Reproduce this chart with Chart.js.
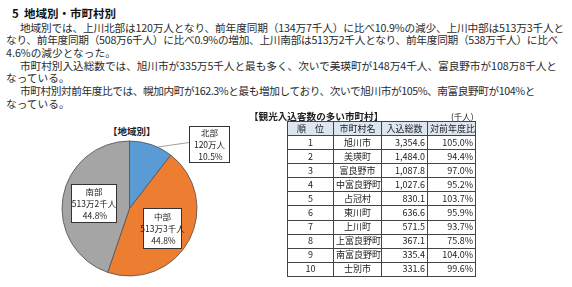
<!DOCTYPE html>
<html><head><meta charset="utf-8">
<script src="https://cdn.jsdelivr.net/npm/chart.js@4"></script>
<style>
html,body{margin:0;padding:0;background:#fff;width:572px;height:287px;overflow:hidden;}
body{position:relative;font-family:"Noto Sans CJK JP","Noto Sans",sans-serif;color:#222;}
.ln{position:absolute;white-space:nowrap;font-size:10.7px;line-height:13px;color:#2a2a2a;}
#ttl{position:absolute;left:12px;top:5px;font-size:11.5px;font-weight:bold;line-height:16px;white-space:nowrap;color:#111;}
#pieTitle{position:absolute;left:108px;top:124px;font-size:9.5px;font-weight:bold;line-height:14px;white-space:nowrap;}
#tblTitle{position:absolute;left:249px;top:109px;font-size:9.6px;font-weight:bold;line-height:14px;white-space:nowrap;}
#unit{position:absolute;left:451px;top:110px;font-size:8.5px;line-height:12px;white-space:nowrap;}
#pie{position:absolute;left:0;top:110px;}
#tbl{position:absolute;left:287px;top:121px;width:188px;border-collapse:collapse;table-layout:fixed;font-size:9px;border:1.5px solid #333;}
#tbl th,#tbl td{border:1px solid #444;padding:0 2px;line-height:12px;white-space:nowrap;overflow:hidden;}
#tbl th{background:#DCE6F1;font-weight:normal;text-align:center;height:13px;}
#tbl td{height:13.1px;}
#tbl td.c{text-align:center;}
#tbl td.r{text-align:right;}
</style></head>
<body>
<div id="ttl">5&nbsp;&nbsp;地域別・市町村別</div>
<div id="body"></div>
<div id="pieTitle">【地域別】</div>
<canvas id="pie" width="250" height="177"></canvas>
<div id="tblTitle">【観光入込客数の多い市町村】</div>
<div id="unit">(千人)</div>
<table id="tbl"><colgroup><col style="width:46px"><col style="width:48px"><col style="width:46px"><col style="width:48px"></colgroup><thead></thead><tbody></tbody></table>
<script>
// ---- data ----
const textLines = [
 "地域別では、上川北部は120万人となり、前年度同期（134万7千人）に比べ10.9%の減少、上川中部は513万3千人と",
 "なり、前年度同期（508万6千人）に比べ0.9%の増加、上川南部は513万2千人となり、前年度同期（538万千人）に比べ",
 "4.6%の減少となった。",
 "市町村別入込総数では、旭川市が335万5千人と最も多く、次いで美瑛町が148万4千人、富良野市が108万8千人と",
 "なっている。",
 "市町村別対前年度比では、幌加内町が162.3%と最も増加しており、次いで旭川市が105%、南富良野町が104%と",
 "なっている。"
];
const regions = ["北部","中部","南部"];
const regionValues = [120.0, 513.3, 513.2];
const regionAmounts = ["120万人","513万3千人","513万2千人"];
const regionShares = ["10.5%","44.8%","44.8%"];
const regionColors = ["#5B9BD5","#ED7D31","#A5A5A5"];
const tableHeader = ["順　位","市町村名","入込総数","対前年度比"];
const ranks = ["1","2","3","4","5","6","7","8","9","10"];
const towns = ["旭川市","美瑛町","富良野市","中富良野町","占冠村","東川町","上川町","上富良野町","南富良野町","士別市"];
const visitors = ["3,354.6","1,484.0","1,087.8","1,027.6","830.1","636.6","571.5","367.1","335.4","331.6"];
const ratios = ["105.0%","94.4%","97.0%","95.2%","103.7%","95.9%","93.7%","75.8%","104.0%","99.6%"];

// ---- body text ----
const lineGeom = [[20,564,27],[6,558,39.7],[6,null,52.4],[20,557,65.1],[6,null,77.8],[20,535,90.5],[6,null,103.2]];
const bodyDiv = document.getElementById('body');
textLines.forEach((t,i)=>{
  const d=document.createElement('div'); d.className='ln'; d.textContent=t;
  const g=lineGeom[i];
  d.style.left=g[0]+'px'; d.style.top=(g[2]-6.5)+'px';
  bodyDiv.appendChild(d);
  if(g[1]!==null){
    const w=d.getBoundingClientRect().width;
    const n=[...t].length;
    d.style.letterSpacing=((g[1]-g[0]-w)/n)+'px';
  }
});

// ---- table ----
const thead=document.querySelector('#tbl thead');
const hr=document.createElement('tr');
tableHeader.forEach(h=>{const th=document.createElement('th');th.textContent=h;hr.appendChild(th);});
thead.appendChild(hr);
const tbody=document.querySelector('#tbl tbody');
ranks.forEach((r,i)=>{
  const tr=document.createElement('tr');
  [[r,'c'],[towns[i],'c'],[visitors[i],'r'],[ratios[i],'r']].forEach(([v,c])=>{
    const td=document.createElement('td');td.className=c;td.textContent=v;tr.appendChild(td);
  });
  tbody.appendChild(tr);
});

// ---- pie ----
const boxes=[
  {x:189,y:16,w:41,h:37,leader:true},
  {x:143,y:98,w:39,h:41},
  {x:71,y:74,w:46,h:39}
];
const boxPlugin={
  id:'boxes',
  afterDatasetsDraw(chart){
    const ctx=chart.ctx; const meta=chart.getDatasetMeta(0);
    ctx.save();
    boxes.forEach((b,i)=>{
      if(b.leader){
        const a=meta.data[i];
        const ang=a.startAngle+0.65*(a.endAngle-a.startAngle);
        ctx.beginPath();
        ctx.moveTo(a.x+Math.cos(ang)*a.outerRadius,a.y+Math.sin(ang)*a.outerRadius);
        ctx.lineTo(b.x,b.y+b.h/2-2);
        ctx.strokeStyle='#888';ctx.lineWidth=0.8;ctx.stroke();
      }
      ctx.fillStyle='#fff';ctx.fillRect(b.x,b.y,b.w,b.h);
      ctx.strokeStyle='#333';ctx.lineWidth=1;ctx.strokeRect(b.x+0.5,b.y+0.5,b.w-1,b.h-1);
      ctx.fillStyle='#222';ctx.textAlign='center';ctx.textBaseline='middle';
      ctx.font='8.5px "Noto Sans CJK JP", sans-serif';
      const cx=b.x+b.w/2, cy=b.y+b.h/2;
      [regions[i],regionAmounts[i],regionShares[i]].forEach((s,k)=>{
        ctx.fillText(s,cx+(k===2?1:0),cy+(k-1)*12);
      });
    });
    ctx.restore();
  }
};
new Chart(document.getElementById('pie'),{
  type:'pie',
  data:{labels:regions,datasets:[{data:regionValues,backgroundColor:regionColors,borderColor:'#505050',borderWidth:0.8}]},
  options:{
    responsive:false,animation:false,
    radius:67.5,
    layout:{padding:{left:9,right:0,top:20,bottom:0}},
    plugins:{legend:{display:false},tooltip:{enabled:false},title:{display:false}}
  },
  plugins:[boxPlugin]
});
</script>
</body></html>
